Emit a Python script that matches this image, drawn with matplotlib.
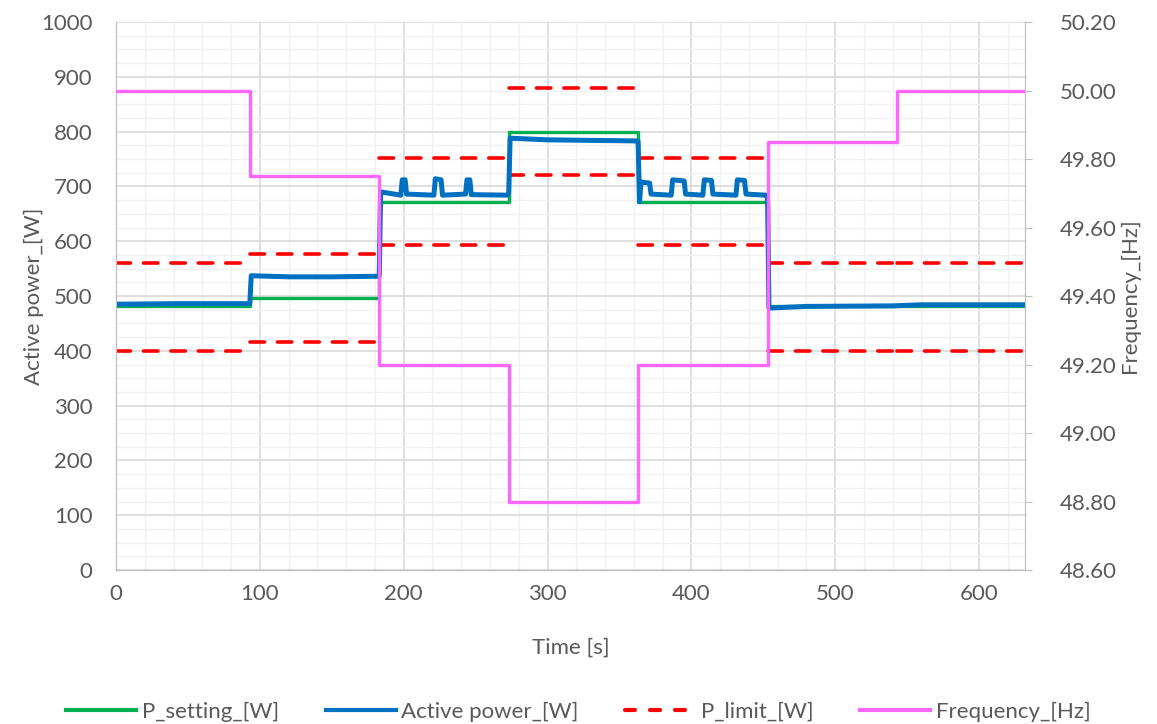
import numpy as np
import matplotlib.pyplot as plt
from matplotlib.ticker import MultipleLocator, FormatStrFormatter

plt.rcParams['font.family'] = ['Lato', 'DejaVu Sans']
plt.rcParams['font.size'] = 16

GREY = '#595959'

# segment boundaries [s]
seg_t = [0, 93, 183, 273, 363, 453, 543, 632]

# set point per segment
p_setting = [482, 496, 671, 800, 671, 481, 481]
# limits per segment
p_upper = [560, 577, 752, 880, 752, 560, 560]
p_lower = [400, 416, 593, 721, 593, 400, 400]
# grid frequency per segment
freq = [50.00, 49.75, 49.20, 48.80, 49.20, 49.85, 50.00]

t_active = [0, 40, 92, 93, 94, 120, 150, 182, 183, 184,
            198, 199, 201, 202, 221, 222, 226, 227, 243, 244, 246, 247, 272, 273,
            274, 300, 330, 362, 363,
            364, 365, 371, 372, 386, 387, 395, 396, 408, 409, 414, 415,
            431, 432, 437, 438, 452, 453,
            454, 480, 540, 560, 632]
p_active = [485, 486, 486, 486, 537, 535, 535, 536, 537, 690,
            684, 712, 712, 686, 684, 714, 712, 684, 686, 712, 712, 685, 684, 686,
            788, 785, 784, 783, 782,
            672, 708, 706, 686, 684, 712, 710, 686, 684, 712, 711, 686,
            684, 712, 711, 686, 684, 680,
            478, 481, 482, 484, 484]

fig = plt.figure(figsize=(11.57, 7.24), dpi=100)
ax = fig.add_axes([0.1003, 0.2127, 0.7856, 0.7569])
ax2 = ax.twinx()

# step series built from the segment tables
t_step = np.repeat(seg_t, 2)[1:-1]
ax.plot(t_step, np.repeat(p_setting, 2), color='#00B050', lw=2.4, zorder=3)
ax.plot(t_active, p_active, color='#0070C0', lw=3.6, zorder=4)

for lims in (p_upper, p_lower):
    for i, v in enumerate(lims):
        ax.plot([seg_t[i], seg_t[i + 1]], [v, v], color='#FF0000', lw=2.6,
                linestyle=(0, (4.0, 3.6)), dash_capstyle='round', zorder=2)

ax2.plot(t_step, np.repeat(freq, 2), color='#FF66FF', lw=2.4, zorder=5)

ax.set_xlim(0, 632)
ax.set_ylim(0, 1000)
ax2.set_ylim(48.6, 50.2)

ax.xaxis.set_major_locator(MultipleLocator(100))
ax.xaxis.set_minor_locator(MultipleLocator(20))
ax.yaxis.set_major_locator(MultipleLocator(100))
ax.yaxis.set_minor_locator(MultipleLocator(25))
ax2.yaxis.set_major_locator(MultipleLocator(0.2))
ax2.yaxis.set_major_formatter(FormatStrFormatter('%.2f'))

ax.grid(which='major', color='#D9D9D9', lw=1.2)
ax.grid(which='minor', color='#F0F0F0', lw=1.0)
ax.set_axisbelow(True)

ax.tick_params(axis='x', which='both', length=0, colors=GREY, pad=10)
ax.tick_params(axis='y', which='both', length=0, colors=GREY, pad=17)
ax2.tick_params(axis='y', length=5, color='#BFBFBF', colors=GREY, pad=20)
for a in (ax, ax2):
    for s in a.spines.values():
        s.set_color('#BFBFBF')
ax.spines['top'].set_visible(False)
ax2.spines['top'].set_visible(False)

ax.set_xlabel('Time [s]', color=GREY, labelpad=24)
ax.set_ylabel('Active power_[W]', color=GREY, labelpad=-2)
ax2.set_ylabel('Frequency_[Hz]', color=GREY, labelpad=2)

handles = [
    plt.Line2D([], [], color='#00B050', lw=3),
    plt.Line2D([], [], color='#0070C0', lw=3),
    plt.Line2D([], [], color='#FF0000', lw=3, linestyle=(0, (2.4, 3.6)), dash_capstyle='round'),
    plt.Line2D([], [], color='#FF66FF', lw=3),
]
labels = ['P_setting_[W]', 'Active power_[W]', 'P_limit_[W]', 'Frequency_[Hz]']
leg = fig.legend(handles, labels, loc='lower center', bbox_to_anchor=(0.5, -0.025),
                 ncol=4, frameon=False, handlelength=3.15, columnspacing=2.1,
                 handletextpad=0.25)
for t in leg.get_texts():
    t.set_color(GREY)

fig.savefig('out.png', dpi=100)
